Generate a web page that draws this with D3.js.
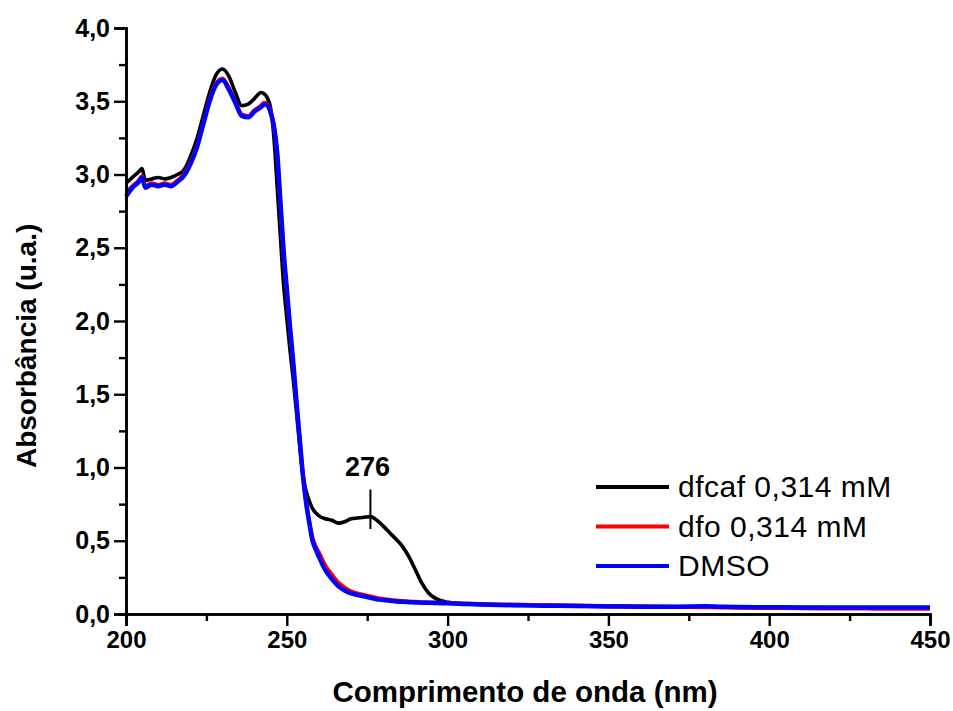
<!DOCTYPE html>
<html>
<head>
<meta charset="utf-8">
<script src="https://cdn.jsdelivr.net/npm/d3@7"></script>
<style>
  body { margin: 0; background: #fff; }
  svg { display: block; font-family: "Liberation Sans", Arial, sans-serif; }
</style>
</head>
<body>
<svg width="953" height="711"></svg>
<script>
// wavelengths (nm)
let wavelength = [200, 202, 204, 205, 206, 208, 210, 212, 214, 216, 218, 220, 222, 224, 226, 228,
  230, 232, 234, 236, 238, 240, 242, 243, 244, 245, 246, 247, 248, 249, 250, 251, 252, 253, 254,
  255, 256, 257, 258, 259, 260, 262, 264, 266, 268, 270, 272, 274, 276, 278, 280, 282, 284, 286,
  288, 290, 292, 294, 296, 298, 300, 305, 310, 320, 330, 340, 350, 360, 370, 380, 385, 390, 400,
  410, 420, 430, 440, 450];

let dfcaf = [2.94, 2.98, 3.02, 3.04, 2.96, 2.97, 2.98, 2.97, 2.98, 3.00, 3.03, 3.12, 3.24, 3.40, 3.56, 3.68,
  3.72, 3.67, 3.56, 3.47, 3.48, 3.52, 3.56, 3.55, 3.52, 3.45, 3.25, 2.92, 2.58, 2.25, 2.02, 1.80, 1.60, 1.38, 1.15,
  0.95, 0.84, 0.77, 0.72, 0.69, 0.67, 0.65, 0.64, 0.62, 0.63, 0.65, 0.655, 0.66, 0.665, 0.64, 0.60, 0.555, 0.51, 0.46,
  0.39, 0.30, 0.21, 0.145, 0.11, 0.09, 0.08, 0.07, 0.066, 0.062, 0.058, 0.055, 0.052, 0.05, 0.049, 0.05, 0.048, 0.046, 0.045,
  0.044, 0.043, 0.042, 0.041, 0.04];

let dfo = [2.88, 2.92, 2.96, 2.99, 2.92, 2.94, 2.93, 2.94, 2.93, 2.96, 3.00, 3.08, 3.19, 3.35, 3.51, 3.62,
  3.655, 3.59, 3.50, 3.41, 3.40, 3.44, 3.47, 3.49, 3.48, 3.43, 3.33, 3.14, 2.80, 2.46, 2.20, 1.94, 1.70, 1.44, 1.19,
  0.95, 0.77, 0.63, 0.52, 0.46, 0.42, 0.33, 0.27, 0.215, 0.18, 0.155, 0.14, 0.13, 0.12, 0.11, 0.103, 0.097, 0.092, 0.088,
  0.085, 0.083, 0.081, 0.079, 0.078, 0.077, 0.076, 0.072, 0.068, 0.064, 0.061, 0.058, 0.055, 0.053, 0.05, 0.046, 0.045, 0.043, 0.041,
  0.039, 0.038, 0.037, 0.036, 0.036];

let dmso = [2.85, 2.91, 2.95, 2.98, 2.91, 2.93, 2.92, 2.93, 2.92, 2.95, 2.99, 3.07, 3.18, 3.34, 3.50, 3.61,
  3.645, 3.58, 3.49, 3.40, 3.39, 3.43, 3.46, 3.48, 3.47, 3.42, 3.33, 3.15, 2.82, 2.48, 2.22, 1.96, 1.72, 1.45, 1.20,
  0.95, 0.76, 0.62, 0.50, 0.44, 0.39, 0.30, 0.24, 0.19, 0.16, 0.14, 0.13, 0.12, 0.11, 0.10, 0.095, 0.09, 0.086, 0.083,
  0.081, 0.079, 0.077, 0.076, 0.075, 0.074, 0.073, 0.069, 0.065, 0.06, 0.057, 0.054, 0.052, 0.05, 0.05, 0.053, 0.049, 0.047, 0.046,
  0.045, 0.045, 0.044, 0.044, 0.044];

let seriesNames = ['dfcaf 0,314 mM', 'dfo 0,314 mM', 'DMSO'];
let seriesColors = ['#000000', '#ff0000', '#0000ff'];
let xTicks = [200, 250, 300, 350, 400, 450];
let yTicks = [0, 0.5, 1, 1.5, 2, 2.5, 3, 3.5, 4];
let peakLabel = 276;

let svg = d3.select('svg');

let xScale = d3.scaleLinear()
               .domain([200, 450])
               .range([126, 930]);

let yScale = d3.scaleLinear()
               .domain([0, 4])
               .range([614, 28]);

let fmt = function(d) { return d3.format('.1f')(d).replace('.', ','); };

// minor ticks
let xAxisMinor = d3.axisBottom(xScale)
                   .tickValues(d3.range(225, 450, 50))
                   .tickSize(7)
                   .tickFormat('');
let yAxisMinor = d3.axisLeft(yScale)
                   .tickValues(d3.range(0.25, 4, 0.5))
                   .tickSize(7)
                   .tickFormat('');

let xAxis = d3.axisBottom(xScale)
              .tickValues(xTicks)
              .tickSize(12)
              .tickPadding(5)
              .tickFormat(d3.format('d'));
let yAxis = d3.axisLeft(yScale)
              .tickValues(yTicks)
              .tickSize(12)
              .tickPadding(4)
              .tickFormat(fmt);

let line = d3.line()
             .x(function(d) { return xScale(d[0]); })
             .y(function(d) { return yScale(d[1]); })
             .curve(d3.curveMonotoneX);

let allSeries = [dfcaf, dfo, dmso];
let widths = [3.6, 4, 4.5];

allSeries.forEach(function(vals, i) {
  svg.append('path')
     .attr('d', line(wavelength.map(function(w, j) { return [w, vals[j]]; })))
     .attr('fill', 'none')
     .attr('stroke', seriesColors[i])
     .attr('stroke-width', widths[i])
     .attr('stroke-linejoin', 'round');
});

function styleAxis(g, size) {
  g.select('.domain').attr('stroke-width', 2.6).attr('stroke', '#000');
  g.selectAll('.tick line').attr('stroke-width', 2.4).attr('stroke', '#000');
  g.selectAll('.tick text')
   .attr('fill', '#000')
   .style('font-size', size + 'px')
   .style('font-weight', 'bold');
}

svg.append('g')
   .attr('transform', 'translate(0,614)')
   .call(xAxisMinor)
   .call(styleAxis, 24);
svg.append('g')
   .attr('transform', 'translate(126,0)')
   .call(yAxisMinor)
   .call(styleAxis, 25);
svg.append('g')
   .attr('transform', 'translate(0,614)')
   .call(xAxis)
   .call(styleAxis, 24);
svg.append('g')
   .attr('transform', 'translate(126,0)')
   .call(yAxis)
   .call(styleAxis, 25);

// axis titles
svg.append('text')
   .attr('x', xScale(325) - 3)
   .attr('y', 702)
   .attr('text-anchor', 'middle')
   .style('font-size', '29.5px')
   .style('font-weight', 'bold')
   .text('Comprimento de onda (nm)');

svg.append('text')
   .attr('transform', 'translate(36,' + yScale(1.83) + ') rotate(-90)')
   .attr('text-anchor', 'middle')
   .style('font-size', '28px')
   .style('font-weight', 'bold')
   .text('Absorbância (u.a.)');

// peak annotation
svg.append('line')
   .attr('x1', xScale(peakLabel))
   .attr('x2', xScale(peakLabel))
   .attr('y1', yScale(0.85))
   .attr('y2', yScale(0.58))
   .attr('stroke', '#000')
   .attr('stroke-width', 2);
svg.append('text')
   .attr('x', xScale(peakLabel) - 3)
   .attr('y', yScale(0.94))
   .attr('text-anchor', 'middle')
   .style('font-size', '27px')
   .style('font-weight', 'bold')
   .text(peakLabel);

// legend
let legend = svg.append('g');
seriesNames.forEach(function(name, i) {
  let yy = 487 + i * 39.5;
  legend.append('line')
        .attr('x1', 596).attr('x2', 669)
        .attr('y1', yy).attr('y2', yy)
        .attr('stroke', seriesColors[i])
        .attr('stroke-width', 4);
  legend.append('text')
        .attr('x', 678)
        .attr('y', yy + 10)
        .style('font-size', '30px')
        .style('letter-spacing', '0.5px')
        .text(name);
});
</script>
</body>
</html>
